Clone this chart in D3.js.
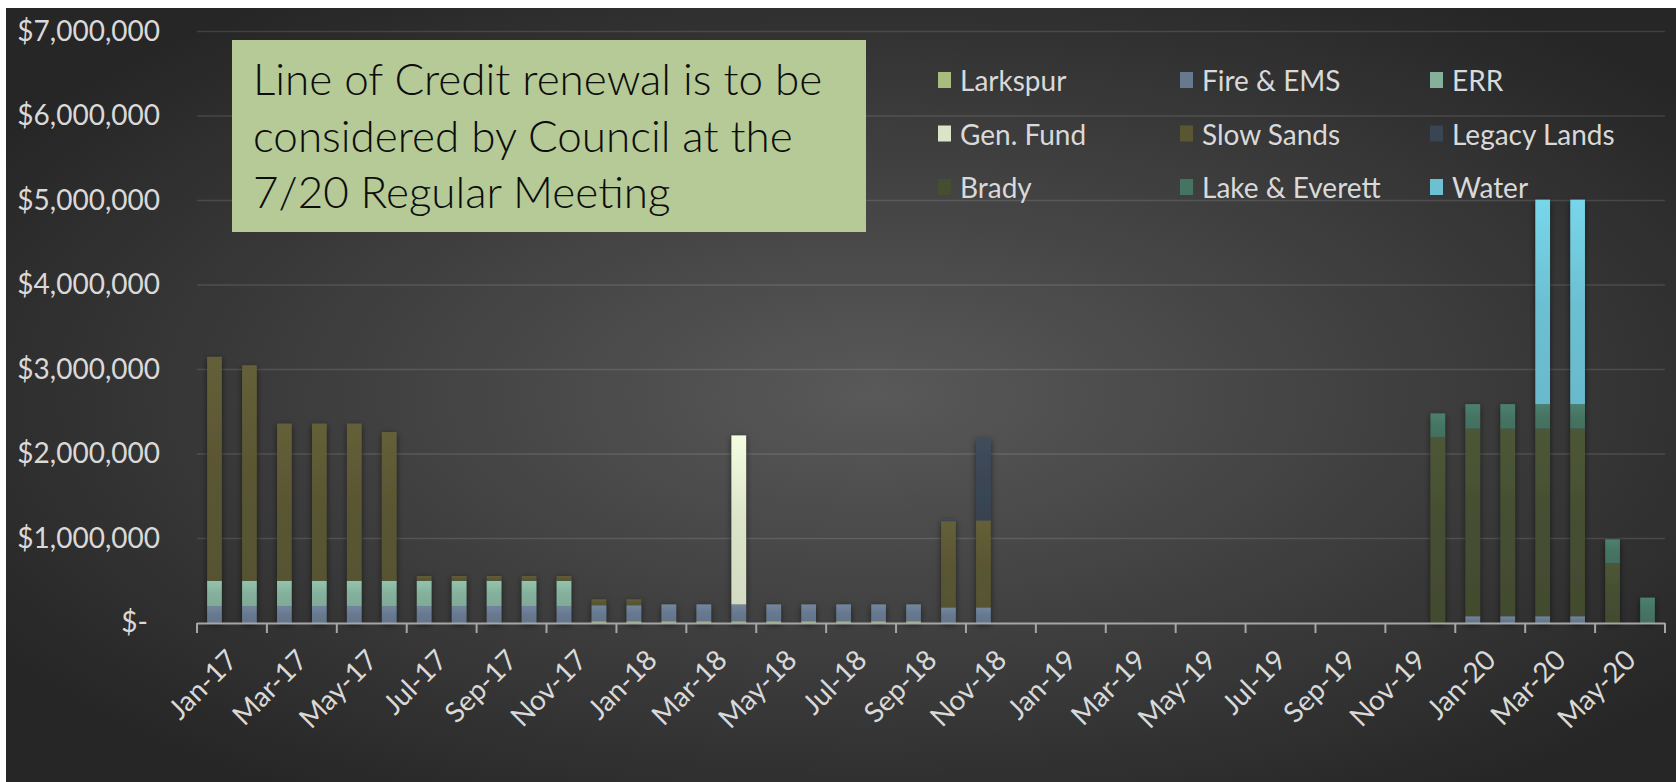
<!DOCTYPE html>
<html><head><meta charset="utf-8">
<script src="https://cdn.jsdelivr.net/npm/d3@7"></script>
<style>html,body{margin:0;padding:0;background:#fff;} svg{display:block}</style>
</head><body><svg id="c" width="1676" height="782"></svg>
<script>
// ---------- DATA ----------
const months = ["Jan-17","Feb-17","Mar-17","Apr-17","May-17","Jun-17","Jul-17","Aug-17","Sep-17","Oct-17","Nov-17","Dec-17",
  "Jan-18","Feb-18","Mar-18","Apr-18","May-18","Jun-18","Jul-18","Aug-18","Sep-18","Oct-18","Nov-18","Dec-18",
  "Jan-19","Feb-19","Mar-19","Apr-19","May-19","Jun-19","Jul-19","Aug-19","Sep-19","Oct-19","Nov-19","Dec-19",
  "Jan-20","Feb-20","Mar-20","Apr-20","May-20","Jun-20"];
const seriesNames = ["Larkspur","Fire & EMS","ERR","Gen. Fund","Slow Sands","Legacy Lands","Brady","Lake & Everett","Water"];
const seriesColors = ["#a9bc80","#67798f","#84b09c","#dbe3c9","#5a5632","#3a4554","#454e31","#457463","#6cc0d2"];
const larkspur   = [0,0,0,0,0,0,0,0,0,0,0, 20000,20000,20000,20000,20000,20000,20000,20000,20000,20000, 0,0, 0,0,0,0,0,0,0,0,0,0,0,0, 0,0,0,0,0,0,0];
const fireEms    = [200000,200000,200000,200000,200000,200000,200000,200000,200000,200000,200000, 190000,190000,200000,200000,200000,200000,200000,200000,200000,200000, 185000,185000, 0,0,0,0,0,0,0,0,0,0,0,0, 0,80000,80000,80000,80000,0,0];
const err        = [300000,300000,300000,300000,300000,300000,300000,300000,300000,300000,300000, 0,0,0,0,0,0,0,0,0,0, 0,0, 0,0,0,0,0,0,0,0,0,0,0,0, 0,0,0,0,0,0,0];
const genFund    = [0,0,0,0,0,0,0,0,0,0,0, 0,0,0,0,2000000,0,0,0,0,0, 0,0, 0,0,0,0,0,0,0,0,0,0,0,0, 0,0,0,0,0,0,0];
const slowSands  = [2650000,2550000,1860000,1860000,1860000,1760000,55000,55000,55000,55000,55000, 70000,70000,0,0,0,0,0,0,0,0, 1020000,1030000, 0,0,0,0,0,0,0,0,0,0,0,0, 0,0,0,0,0,0,0];
const legacyLands= [0,0,0,0,0,0,0,0,0,0,0, 0,0,0,0,0,0,0,0,0,0, 20000,970000, 0,0,0,0,0,0,0,0,0,0,0,0, 0,0,0,0,0,0,0];
const brady      = [0,0,0,0,0,0,0,0,0,0,0, 0,0,0,0,0,0,0,0,0,0, 0,0, 0,0,0,0,0,0,0,0,0,0,0,0, 2200000,2220000,2220000,2220000,2220000,710000,0];
const lakeEverett= [0,0,0,0,0,0,0,0,0,0,0, 0,0,0,0,0,0,0,0,0,0, 0,0, 0,0,0,0,0,0,0,0,0,0,0,0, 280000,290000,290000,290000,290000,280000,300000];
const water      = [0,0,0,0,0,0,0,0,0,0,0, 0,0,0,0,0,0,0,0,0,0, 0,0, 0,0,0,0,0,0,0,0,0,0,0,0, 0,0,0,2420000,2420000,0,0];
const seriesValues = [larkspur, fireEms, err, genFund, slowSands, legacyLands, brady, lakeEverett, water];
const yTicks = [0,1000000,2000000,3000000,4000000,5000000,6000000,7000000];
const noteLines = ["Line of Credit renewal is to be","considered by Council at the","7/20 Regular Meeting"];

// ---------- CHART ----------
const svg = d3.select("#c");
const W = 1676, H = 782;
const FONT = "Lato, 'Open Sans', sans-serif";
const defs = svg.append("defs");

const bg = defs.append("radialGradient").attr("id","bg").attr("cx","0.52").attr("cy","0.5").attr("r","0.62");
bg.append("stop").attr("offset","0").attr("stop-color","#595959");
bg.append("stop").attr("offset","1").attr("stop-color","#262626");

const sh = defs.append("filter").attr("id","shadow").attr("x","-50%").attr("y","-10%").attr("width","200%").attr("height","120%");
sh.append("feDropShadow").attr("dx",0).attr("dy",2).attr("stdDeviation",3).attr("flood-color","#000").attr("flood-opacity",0.55);

seriesColors.forEach((c,i)=>{
  const g = defs.append("linearGradient").attr("id","sg"+i).attr("x1",0).attr("y1",0).attr("x2",0).attr("y2",1);
  g.append("stop").attr("offset","0").attr("stop-color", d3.color(c).brighter(0.3));
  g.append("stop").attr("offset","0.5").attr("stop-color", c);
  g.append("stop").attr("offset","1").attr("stop-color", d3.color(c).darker(0.1));
});

svg.append("rect").attr("x",0).attr("y",0).attr("width",W).attr("height",H).attr("fill","#fff");
svg.append("rect").attr("x",6).attr("y",8).attr("width",W-6).attr("height",H-8).attr("fill","url(#bg)");

const x = d3.scaleBand().domain(months).range([197,1665]).paddingInner(0.58).paddingOuter(0.29);
const y = d3.scaleLinear().domain([0,7000000]).range([623,31.5]);
const step = x.step();

// gridlines
svg.append("g").selectAll("line").data(yTicks.slice(1)).join("line")
  .attr("x1",197).attr("x2",1665).attr("y1",d=>y(d)).attr("y2",d=>y(d))
  .attr("stroke","rgba(255,255,255,0.12)").attr("stroke-width",1.6);

// y axis labels
const yAxis = d3.axisLeft(y).tickValues(yTicks).tickSize(0).tickPadding(0)
  .tickFormat(d => d===0 ? "$-" : "$" + d3.format(",")(d));
const ya = svg.append("g").attr("transform","translate(160,0)").call(yAxis);
ya.select(".domain").remove();
ya.selectAll("text").attr("fill","#d9d9d9").attr("font-family",FONT).attr("font-size",28)
  .attr("dx", d => d===0 ? -12 : 0);

// bars
const rows = months.map((m,i)=>{ const r={month:m}; seriesNames.forEach((s,k)=>r[s]=seriesValues[k][i]); return r; });
const stacked = d3.stack().keys(seriesNames)(rows);
const barsG = svg.append("g").attr("filter","url(#shadow)");
stacked.forEach((layer,k)=>{
  barsG.append("g").selectAll("rect").data(layer.filter(d=>d[1]-d[0]>0)).join("rect")
    .attr("x", d=>x(d.data.month)).attr("width", x.bandwidth())
    .attr("y", d=>y(d[1])).attr("height", d=>y(d[0])-y(d[1]))
    .attr("fill","url(#sg"+k+")");
});

// x axis
svg.append("line").attr("x1",197).attr("x2",1665).attr("y1",623.5).attr("y2",623.5)
  .attr("stroke","#a6a6a6").attr("stroke-width",2);
const boundaries = d3.range(0, months.length+1, 2).map(i => i<months.length ? x(months[i]) - step*x.paddingInner()/2 : 1665);
svg.append("g").selectAll("line").data(boundaries).join("line")
  .attr("x1",d=>d).attr("x2",d=>d).attr("y1",623).attr("y2",633)
  .attr("stroke","#a6a6a6").attr("stroke-width",2);
const labelMonths = months.filter((m,i)=>i%2===0);
svg.append("g").selectAll("text").data(labelMonths).join("text")
  .attr("transform", d=>`translate(${x(d)+x.bandwidth()/2+9},${646}) rotate(-45)`)
  .attr("text-anchor","end").attr("dominant-baseline","hanging")
  .attr("fill","#d9d9d9").attr("font-family",FONT).attr("font-size",28)
  .text(d=>d);

// legend
const legCols = [938, 1180, 1430], legRows = [80, 133.5, 187];
const leg = svg.append("g");
seriesNames.forEach((s,i)=>{
  const cx = legCols[i%3], cy = legRows[Math.floor(i/3)];
  leg.append("rect").attr("x",cx).attr("y",cy-8).attr("width",13).attr("height",16).attr("fill",seriesColors[i]);
  leg.append("text").attr("x",cx+22).attr("y",cy).attr("dominant-baseline","central")
    .attr("fill","#d9d9d9").attr("font-family",FONT).attr("font-size",28).text(s);
});

// note box
svg.append("rect").attr("x",232).attr("y",40).attr("width",634).attr("height",192).attr("fill","#b5ca96");
svg.append("g").selectAll("text").data(noteLines).join("text")
  .attr("x",253).attr("y",(d,i)=>95+i*56.7)
  .attr("fill","#0d0d0d").attr("font-family",FONT).attr("font-weight",300).attr("font-size",44)
  .text(d=>d);
</script></body></html>
